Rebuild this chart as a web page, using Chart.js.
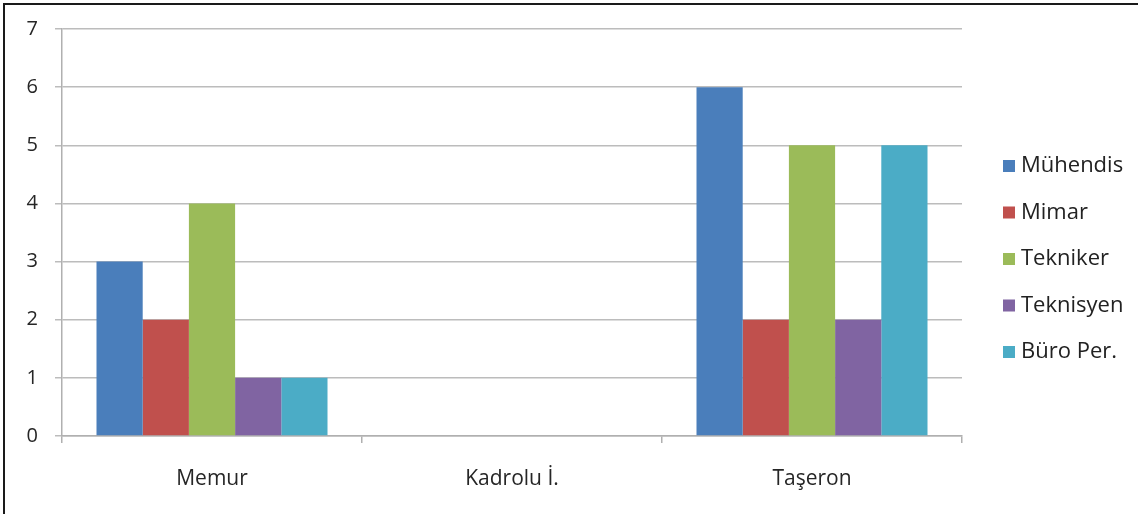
<!DOCTYPE html>
<html>
<head>
<meta charset="utf-8">
<script src="https://cdn.jsdelivr.net/npm/chart.js@4/dist/chart.umd.min.js"></script>
<style>
html,body{margin:0;padding:0;background:#fff;}
#wrap{position:relative;width:1138px;height:514px;}
</style>
</head>
<body>
<div id="wrap"><canvas id="c" width="1138" height="514"></canvas></div>
<script>
const categories = ["Memur", "Kadrolu İ.", "Taşeron"];
const seriesNames = ["Mühendis", "Mimar", "Tekniker", "Teknisyen", "Büro Per."];
const muhendis = [3, 0, 6];
const mimar = [2, 0, 2];
const tekniker = [4, 0, 5];
const teknisyen = [1, 0, 2];
const buroPer = [1, 0, 5];
const yTicks = [0, 1, 2, 3, 4, 5, 6, 7];

const seriesValues = [muhendis, mimar, tekniker, teknisyen, buroPer];
const colors = ["#4A7EBB", "#C0504D", "#9BBB59", "#8064A2", "#4BACC6"];
const FONT = "'Open Sans', 'DejaVu Sans', sans-serif";

const framePlugin = {
  id: 'frame',
  beforeDraw(chart) {
    const ctx = chart.ctx;
    ctx.save();
    ctx.fillStyle = '#fff';
    ctx.fillRect(0, 0, chart.width, chart.height);
    ctx.restore();
  },
  afterDraw(chart) {
    const ctx = chart.ctx;
    ctx.save();
    ctx.strokeStyle = '#1a1a1a';
    ctx.lineWidth = 2;
    ctx.beginPath();
    ctx.moveTo(4, 514);
    ctx.lineTo(4, 4);
    ctx.lineTo(1138, 4);
    ctx.stroke();
    // legend
    ctx.font = "22px " + FONT;
    ctx.textBaseline = 'middle';
    ctx.textAlign = 'left';
    chart.data.datasets.forEach((ds, i) => {
      const y = 166 + i * 46.5;
      ctx.fillStyle = ds.backgroundColor;
      ctx.fillRect(1003, y - 6, 12, 12);
      ctx.fillStyle = '#222222';
      ctx.fillText(ds.label, 1021, y);
    });
    ctx.restore();
  }
};

new Chart(document.getElementById('c'), {
  type: 'bar',
  data: {
    labels: categories,
    datasets: seriesNames.map((n, i) => ({
      label: n,
      data: seriesValues[i],
      backgroundColor: colors[i],
      borderWidth: 0,
      categoryPercentage: 0.77,
      barPercentage: 1.0
    }))
  },
  options: {
    responsive: false,
    animation: false,
    devicePixelRatio: 1,
    layout: { padding: { top: 27, left: 0, right: 176, bottom: 0 } },
    plugins: { legend: { display: false }, tooltip: { enabled: false } },
    scales: {
      x: {
        afterFit(s) { s.height = 78; },
        grid: {
          offset: true,
          drawOnChartArea: false,
          drawTicks: true,
          tickLength: 7,
          color: '#b0b0b0',
          lineWidth: 1.5
        },
        border: { display: true, color: '#b0b0b0', width: 1.5 },
        ticks: {
          padding: 23,
          color: '#262626',
          font: { family: FONT, size: 21 }
        }
      },
      y: {
        min: 0,
        max: 7,
        afterFit(s) { s.width = 62; },
        afterBuildTicks(s) { s.ticks = yTicks.map(v => ({ value: v })); },
        grid: {
          color: '#bcbcbc',
          lineWidth: 1.5,
          tickLength: 7
        },
        border: { display: true, color: '#b0b0b0', width: 1.5 },
        ticks: {
          padding: 17,
          color: '#262626',
          font: { family: FONT, size: 20 }
        }
      }
    }
  },
  plugins: [framePlugin]
});
</script>
</body>
</html>
